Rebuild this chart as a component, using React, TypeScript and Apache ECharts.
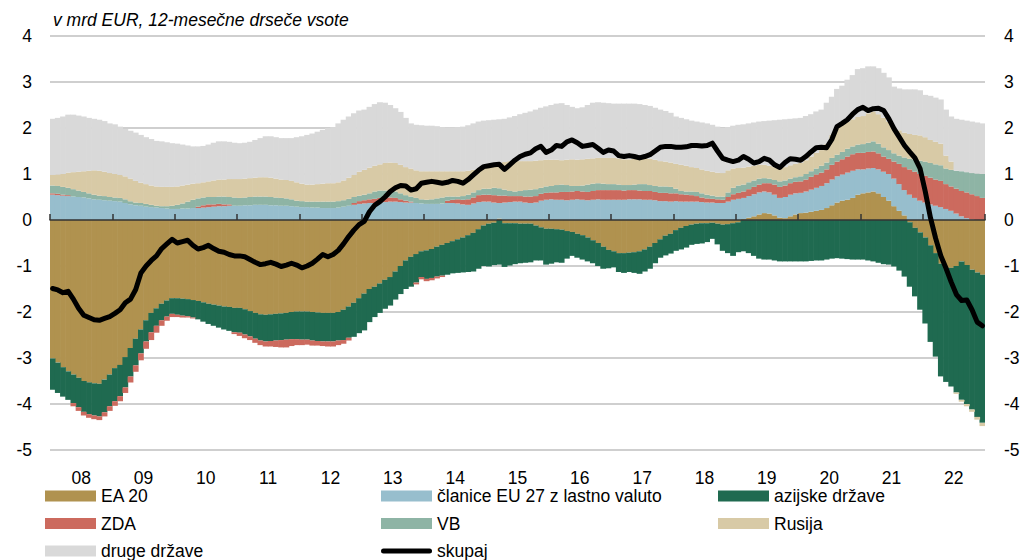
import React, { useEffect, useRef } from "react";
import * as echarts from "echarts";

const years = ["08", "09", "10", "11", "12", "13", "14", "15", "16", "17", "18", "19", "20", "21", "22"];

// monthly values 2008-01 .. 2022-12, mrd EUR
const ea20 = [
  -3.01, -3.10, -3.20, -3.29, -3.36, -3.43, -3.50, -3.53, -3.55, -3.56, -3.47, -3.36,
  -3.22, -3.15, -2.98, -2.78, -2.58, -2.38, -2.18, -2.02, -1.92, -1.82, -1.75, -1.70,
  -1.70, -1.71, -1.72, -1.74, -1.76, -1.79, -1.82, -1.84, -1.86, -1.88, -1.89, -1.91,
  -1.91, -1.94, -1.98, -2.02, -2.05, -2.06, -2.05, -2.04, -2.03, -2.02, -2.00, -1.99,
  -1.99, -1.99, -2.00, -2.01, -2.02, -2.02, -2.02, -2.00, -1.95, -1.88, -1.80, -1.70,
  -1.60, -1.50, -1.45, -1.38, -1.30, -1.24, -1.12, -1.00, -0.88, -0.80, -0.74, -0.68,
  -0.66, -0.63, -0.58, -0.54, -0.50, -0.46, -0.42, -0.38, -0.33, -0.28, -0.20, -0.12,
  -0.08, -0.06, 0.03, -0.07, -0.07, -0.07, -0.08, -0.08, -0.08, -0.12, -0.16, -0.19,
  -0.19, -0.20, -0.21, -0.24, -0.26, -0.30, -0.33, -0.38, -0.44, -0.50, -0.58, -0.65,
  -0.68, -0.72, -0.72, -0.71, -0.70, -0.68, -0.64, -0.58, -0.50, -0.42, -0.34, -0.30,
  -0.22, -0.17, -0.13, -0.10, -0.08, -0.07, -0.07, -0.06, -0.08, -0.10, -0.09, -0.07,
  -0.05, 0.02, 0.05, 0.08, 0.12, 0.15, 0.14, 0.10, 0.05, 0.04, 0.08, 0.12,
  0.15, 0.16, 0.18, 0.20, 0.22, 0.26, 0.32, 0.38, 0.42, 0.44, 0.48, 0.55,
  0.58, 0.60, 0.62, 0.58, 0.50, 0.42, 0.30, 0.20, 0.10, -0.05, -0.17, -0.27,
  -0.38, -0.55, -0.72, -0.95, -1.04, -1.04, -1.00, -0.90, -0.98, -1.08, -1.14, -1.19,
];

const euNonEuro = [
  0.55, 0.54, 0.53, 0.52, 0.51, 0.50, 0.49, 0.47, 0.45, 0.44, 0.43, 0.42,
  0.41, 0.40, 0.37, 0.34, 0.32, 0.31, 0.29, 0.28, 0.27, 0.26, 0.25, 0.24,
  0.24, 0.25, 0.25, 0.26, 0.26, 0.27, 0.28, 0.29, 0.30, 0.30, 0.31, 0.31,
  0.31, 0.32, 0.32, 0.33, 0.33, 0.33, 0.32, 0.32, 0.31, 0.31, 0.30, 0.29,
  0.28, 0.28, 0.27, 0.27, 0.26, 0.26, 0.26, 0.27, 0.29, 0.31, 0.33, 0.35,
  0.36, 0.37, 0.37, 0.38, 0.39, 0.40, 0.40, 0.39, 0.38, 0.38, 0.37, 0.36,
  0.35, 0.35, 0.35, 0.36, 0.37, 0.37, 0.36, 0.34, 0.33, 0.36, 0.39, 0.40,
  0.40, 0.38, 0.34, 0.38, 0.39, 0.40, 0.40, 0.38, 0.37, 0.38, 0.42, 0.44,
  0.45, 0.44, 0.44, 0.43, 0.44, 0.45, 0.44, 0.43, 0.44, 0.45, 0.44, 0.44,
  0.44, 0.44, 0.44, 0.45, 0.45, 0.45, 0.44, 0.44, 0.43, 0.41, 0.41, 0.40,
  0.41, 0.40, 0.40, 0.40, 0.40, 0.39, 0.38, 0.38, 0.37, 0.37, 0.40, 0.44,
  0.46, 0.46, 0.47, 0.48, 0.48, 0.47, 0.46, 0.45, 0.43, 0.46, 0.47, 0.46,
  0.44, 0.46, 0.48, 0.50, 0.52, 0.54, 0.56, 0.57, 0.57, 0.59, 0.59, 0.55,
  0.52, 0.52, 0.51, 0.52, 0.55, 0.58, 0.60, 0.58, 0.55, 0.55, 0.48, 0.42,
  0.38, 0.34, 0.31, 0.28, 0.24, 0.20, 0.14, 0.08, 0.04, 0.01, 0.00, 0.00,
];

const asia = [
  -0.68, -0.66, -0.64, -0.62, -0.62, -0.64, -0.67, -0.69, -0.70, -0.71, -0.71, -0.69,
  -0.72, -0.68, -0.66, -0.62, -0.58, -0.52, -0.46, -0.42, -0.38, -0.36, -0.35, -0.34,
  -0.36, -0.37, -0.37, -0.38, -0.40, -0.42, -0.44, -0.46, -0.48, -0.50, -0.52, -0.53,
  -0.54, -0.55, -0.55, -0.56, -0.57, -0.58, -0.58, -0.58, -0.58, -0.58, -0.59, -0.60,
  -0.61, -0.61, -0.62, -0.62, -0.62, -0.62, -0.62, -0.62, -0.66, -0.68, -0.74, -0.76,
  -0.80, -0.72, -0.66, -0.64, -0.63, -0.62, -0.61, -0.61, -0.62, -0.65, -0.62, -0.56,
  -0.62, -0.63, -0.65, -0.67, -0.69, -0.70, -0.73, -0.76, -0.80, -0.84, -0.86, -0.88,
  -0.93, -0.92, -0.97, -0.95, -0.92, -0.89, -0.86, -0.85, -0.84, -0.76, -0.72, -0.78,
  -0.76, -0.72, -0.72, -0.60, -0.52, -0.52, -0.53, -0.52, -0.50, -0.50, -0.48, -0.40,
  -0.35, -0.41, -0.43, -0.42, -0.45, -0.49, -0.48, -0.48, -0.44, -0.40, -0.43, -0.43,
  -0.45, -0.47, -0.47, -0.44, -0.44, -0.44, -0.41, -0.35, -0.45, -0.57, -0.63, -0.71,
  -0.65, -0.68, -0.72, -0.78, -0.84, -0.86, -0.86, -0.88, -0.90, -0.90, -0.90, -0.90,
  -0.90, -0.90, -0.89, -0.88, -0.88, -0.86, -0.84, -0.83, -0.84, -0.85, -0.86, -0.86,
  -0.86, -0.88, -0.90, -0.93, -0.96, -0.97, -1.01, -1.10, -1.23, -1.40, -1.49, -1.68,
  -1.87, -2.10, -2.25, -2.45, -2.48, -2.58, -2.75, -3.01, -3.02, -3.04, -3.14, -3.22,
];

const usa = [
  0.03, 0.03, 0.02, 0.02, -0.07, -0.08, -0.08, -0.08, -0.08, -0.08, -0.09, -0.10,
  -0.10, -0.11, -0.12, -0.13, -0.14, -0.15, -0.16, -0.17, -0.15, -0.12, -0.09, -0.07,
  -0.05, -0.04, -0.03, -0.02, 0.03, 0.05, 0.06, 0.05, 0.05, 0.04, 0.03, -0.04,
  -0.07, -0.08, -0.08, -0.09, -0.10, -0.11, -0.12, -0.14, -0.16, -0.17, -0.15, -0.13,
  -0.12, -0.11, -0.11, -0.10, -0.10, -0.11, -0.11, -0.10, -0.08, -0.06, 0.04, 0.06,
  0.07, 0.08, 0.09, 0.10, 0.10, 0.09, 0.08, 0.06, 0.04, 0.02, -0.04, -0.05,
  -0.05, -0.05, -0.04, -0.03, 0.05, 0.07, 0.09, 0.10, 0.12, 0.13, 0.15, 0.15,
  0.15, 0.16, 0.16, 0.15, 0.13, 0.12, 0.12, 0.13, 0.14, 0.14, 0.15, 0.15,
  0.15, 0.16, 0.17, 0.18, 0.18, 0.18, 0.18, 0.18, 0.19, 0.20, 0.21, 0.21,
  0.21, 0.21, 0.20, 0.20, 0.20, 0.19, 0.19, 0.19, 0.18, 0.18, 0.18, 0.18,
  0.17, 0.16, 0.15, 0.14, 0.12, 0.10, 0.09, 0.08, 0.08, 0.07, 0.10, 0.12,
  0.13, 0.14, 0.15, 0.16, 0.17, 0.18, 0.20, 0.22, 0.24, 0.25, 0.25, 0.25,
  0.25, 0.26, 0.28, 0.29, 0.29, 0.30, 0.32, 0.32, 0.33, 0.35, 0.36, 0.36,
  0.36, 0.36, 0.36, 0.35, 0.33, 0.33, 0.37, 0.44, 0.50, 0.55, 0.57, 0.58,
  0.58, 0.58, 0.57, 0.57, 0.54, 0.53, 0.54, 0.55, 0.56, 0.55, 0.52, 0.48,
];

const uk = [
  0.17, 0.17, 0.17, 0.16, 0.16, 0.14, 0.12, 0.11, 0.10, 0.09, 0.09, 0.08,
  0.08, 0.08, 0.08, 0.07, 0.06, 0.06, 0.06, 0.05, 0.04, 0.04, 0.05, 0.07,
  0.09, 0.11, 0.15, 0.18, 0.18, 0.17, 0.16, 0.16, 0.16, 0.17, 0.16, 0.18,
  0.17, 0.17, 0.18, 0.18, 0.18, 0.18, 0.18, 0.17, 0.17, 0.16, 0.15, 0.13,
  0.13, 0.12, 0.13, 0.13, 0.14, 0.14, 0.14, 0.14, 0.14, 0.15, 0.13, 0.12,
  0.12, 0.13, 0.16, 0.16, 0.15, 0.14, 0.14, 0.13, 0.12, 0.11, 0.11, 0.09,
  0.09, 0.10, 0.12, 0.13, 0.09, 0.07, 0.06, 0.08, 0.10, 0.11, 0.11, 0.13,
  0.13, 0.16, 0.16, 0.13, 0.11, 0.10, 0.11, 0.14, 0.15, 0.15, 0.13, 0.14,
  0.14, 0.16, 0.16, 0.15, 0.12, 0.11, 0.13, 0.16, 0.16, 0.15, 0.14, 0.13,
  0.13, 0.12, 0.12, 0.11, 0.12, 0.14, 0.15, 0.13, 0.13, 0.14, 0.14, 0.14,
  0.10, 0.07, 0.07, 0.08, 0.09, 0.09, 0.08, 0.07, 0.06, 0.07, 0.10, 0.14,
  0.16, 0.15, 0.15, 0.14, 0.13, 0.11, 0.10, 0.10, 0.12, 0.11, 0.10, 0.10,
  0.11, 0.12, 0.12, 0.13, 0.15, 0.15, 0.15, 0.15, 0.16, 0.17, 0.17, 0.18,
  0.19, 0.20, 0.22, 0.21, 0.20, 0.19, 0.18, 0.18, 0.21, 0.23, 0.26, 0.29,
  0.31, 0.32, 0.33, 0.34, 0.34, 0.36, 0.39, 0.43, 0.44, 0.46, 0.49, 0.52,
];

const russia = [
  0.23, 0.25, 0.28, 0.33, 0.37, 0.41, 0.45, 0.49, 0.53, 0.54, 0.53, 0.52,
  0.51, 0.50, 0.50, 0.49, 0.47, 0.44, 0.43, 0.42, 0.42, 0.42, 0.42, 0.41,
  0.40, 0.39, 0.37, 0.35, 0.33, 0.33, 0.34, 0.36, 0.37, 0.37, 0.39, 0.40,
  0.41, 0.41, 0.41, 0.41, 0.42, 0.42, 0.42, 0.41, 0.40, 0.40, 0.40, 0.40,
  0.38, 0.37, 0.37, 0.38, 0.39, 0.40, 0.40, 0.41, 0.43, 0.46, 0.48, 0.52,
  0.54, 0.56, 0.56, 0.57, 0.60, 0.62, 0.62, 0.62, 0.61, 0.61, 0.60, 0.61,
  0.62, 0.61, 0.59, 0.57, 0.55, 0.55, 0.55, 0.54, 0.52, 0.49, 0.47, 0.48,
  0.50, 0.52, 0.55, 0.60, 0.65, 0.66, 0.65, 0.63, 0.62, 0.62, 0.60, 0.58,
  0.57, 0.55, 0.53, 0.55, 0.58, 0.57, 0.57, 0.56, 0.55, 0.55, 0.56, 0.57,
  0.57, 0.57, 0.56, 0.56, 0.56, 0.57, 0.57, 0.57, 0.57, 0.55, 0.54, 0.53,
  0.54, 0.57, 0.56, 0.53, 0.52, 0.52, 0.52, 0.52, 0.52, 0.51, 0.48, 0.42,
  0.38, 0.37, 0.34, 0.32, 0.30, 0.29, 0.28, 0.28, 0.29, 0.29, 0.29, 0.29,
  0.29, 0.30, 0.32, 0.34, 0.34, 0.40, 0.50, 0.61, 0.60, 0.59, 0.59, 0.60,
  0.61, 0.64, 0.65, 0.64, 0.64, 0.62, 0.55, 0.55, 0.54, 0.54, 0.54, 0.55,
  0.53, 0.50, 0.49, 0.47, 0.28, 0.18, -0.03, -0.04, -0.05, -0.05, -0.06, -0.07,
];

const other = [
  1.22, 1.23, 1.25, 1.26, 1.25, 1.22, 1.19, 1.15, 1.12, 1.11, 1.10, 1.08,
  1.08, 1.05, 1.03, 1.04, 1.05, 1.04, 1.02, 1.01, 0.99, 0.99, 0.97, 0.95,
  0.93, 0.89, 0.85, 0.81, 0.80, 0.79, 0.80, 0.82, 0.83, 0.83, 0.81, 0.79,
  0.78, 0.78, 0.79, 0.82, 0.85, 0.89, 0.90, 0.90, 0.90, 0.91, 0.93, 0.98,
  1.03, 1.08, 1.11, 1.14, 1.17, 1.20, 1.22, 1.28, 1.32, 1.33, 1.34, 1.33,
  1.31, 1.32, 1.34, 1.35, 1.31, 1.25, 1.19, 1.15, 1.07, 0.98, 0.99, 1.00,
  0.99, 0.99, 0.98, 0.96, 0.95, 0.95, 0.96, 0.97, 0.99, 1.01, 1.02, 1.00,
  0.99, 0.96, 0.95, 0.94, 0.95, 0.98, 1.02, 1.05, 1.08, 1.11, 1.14, 1.16,
  1.19, 1.22, 1.24, 1.19, 1.14, 1.12, 1.13, 1.17, 1.21, 1.21, 1.20, 1.19,
  1.18, 1.19, 1.21, 1.21, 1.20, 1.17, 1.15, 1.15, 1.13, 1.12, 1.10, 1.08,
  1.03, 1.02, 1.01, 1.01, 1.01, 1.02, 1.03, 1.02, 1.00, 0.98, 0.94, 0.93,
  0.94, 0.94, 0.94, 0.94, 0.94, 0.95, 0.98, 1.02, 1.05, 1.04, 1.01, 0.99,
  0.98, 0.96, 0.92, 0.90, 0.88, 0.90, 0.83, 0.82, 0.84, 0.91, 0.96, 1.04,
  1.04, 1.02, 0.98, 1.00, 0.98, 0.96, 0.90, 0.91, 0.94, 0.97, 0.99, 0.98,
  0.92, 0.96, 0.96, 0.96, 1.00, 0.98, 1.13, 1.12, 1.12, 1.12, 1.11, 1.10,
];

const total = [
  -1.49, -1.52, -1.58, -1.55, -1.72, -1.92, -2.07, -2.12, -2.17, -2.18, -2.14, -2.10,
  -2.03, -1.95, -1.80, -1.72, -1.51, -1.15, -1.00, -0.88, -0.78, -0.62, -0.52, -0.42,
  -0.50, -0.47, -0.44, -0.55, -0.63, -0.60, -0.55, -0.62, -0.68, -0.70, -0.75, -0.78,
  -0.78, -0.80, -0.86, -0.92, -0.97, -0.95, -0.92, -0.96, -1.01, -0.98, -0.94, -0.98,
  -1.04, -1.00, -0.94, -0.85, -0.75, -0.80, -0.75, -0.66, -0.52, -0.36, -0.22, -0.10,
  -0.03, 0.18, 0.32, 0.40, 0.50, 0.62, 0.70, 0.75, 0.74, 0.65, 0.68, 0.80,
  0.82, 0.84, 0.82, 0.80, 0.82, 0.86, 0.84, 0.80, 0.88, 0.98, 1.08, 1.16,
  1.18, 1.20, 1.21, 1.10, 1.20, 1.30, 1.38, 1.43, 1.46, 1.55, 1.60, 1.47,
  1.52, 1.62, 1.60, 1.70, 1.74, 1.68, 1.60, 1.62, 1.64, 1.56, 1.47, 1.52,
  1.50, 1.40, 1.38, 1.40, 1.38, 1.35, 1.38, 1.42, 1.50, 1.58, 1.60, 1.60,
  1.58, 1.58, 1.59, 1.62, 1.62, 1.61, 1.62, 1.67, 1.50, 1.34, 1.30, 1.27,
  1.30, 1.38, 1.32, 1.24, 1.27, 1.34, 1.30, 1.20, 1.14, 1.25, 1.33, 1.32,
  1.30, 1.38, 1.48, 1.57, 1.58, 1.57, 1.75, 2.03, 2.10, 2.18, 2.30, 2.40,
  2.45, 2.38, 2.42, 2.43, 2.38, 2.20, 1.98, 1.80, 1.62, 1.48, 1.35, 1.12,
  0.62, 0.05, -0.40, -0.78, -1.05, -1.35, -1.62, -1.75, -1.74, -1.95, -2.22, -2.30,
];

const yTicks = { min: -5, max: 4, step: 1 };

const FONT = "'Liberation Sans', Arial, sans-serif";
const FS = 17.5;
const LINE_ICON =
  "path://M2.5,0 H48.5 A2.5,2.5 0 0 1 48.5,5 H2.5 A2.5,2.5 0 0 1 2.5,0 Z";

export default function App() {
  const ref = useRef<HTMLDivElement>(null);

  useEffect(() => {
    if (!ref.current) return;
    document.body.style.margin = "0";
    document.body.style.overflow = "hidden";
    const chart = echarts.init(ref.current, undefined, { renderer: "svg" });

    const months: string[] = [];
    years.forEach((y) => {
      for (let m = 1; m <= 12; m++) months.push(y + "-" + (m < 10 ? "0" + m : m));
    });

    const barSeries = [
      { name: "EA 20", data: ea20, color: "#B0924F" },
      { name: "članice EU 27 z lastno valuto", data: euNonEuro, color: "#97BECD" },
      { name: "azijske države", data: asia, color: "#1F6A50" },
      { name: "ZDA", data: usa, color: "#CC6A5E" },
      { name: "VB", data: uk, color: "#8EB4A5" },
      { name: "Rusija", data: russia, color: "#D8CAA6" },
      { name: "druge države", data: other, color: "#D9D9D9" },
    ].map((s) => ({
      name: s.name,
      type: "bar",
      stack: "all",
      xAxisIndex: 0,
      yAxisIndex: 0,
      barWidth: 5.8,
      itemStyle: { color: s.color },
      emphasis: { disabled: true },
      silent: true,
      data: s.data,
    }));

    const legendBase = {
      orient: "vertical",
      itemWidth: 51,
      itemHeight: 11,
      itemGap: 9.5,
      padding: 0,
      icon: "rect",
      selectedMode: false,
      textStyle: { fontSize: FS, color: "#000", fontFamily: FONT },
    };

    chart.setOption({
      animation: false,
      textStyle: { fontFamily: FONT },
      title: {
        text: "v mrd EUR, 12-mesečne drseče vsote",
        left: 53,
        top: 11,
        padding: 0,
        textStyle: {
          fontSize: FS,
          fontStyle: "italic",
          fontWeight: "normal",
          color: "#000",
          fontFamily: FONT,
        },
      },
      legend: [
        { ...legendBase, left: 45, top: 487, data: ["EA 20", "ZDA", "druge države"] },
        {
          ...legendBase,
          left: 381,
          top: 487,
          data: [
            "članice EU 27 z lastno valuto",
            "VB",
            { name: "skupaj", icon: LINE_ICON, itemStyle: { color: "#000" } },
          ],
        },
        { ...legendBase, left: 718, top: 487, data: ["azijske države", "Rusija"] },
      ],
      grid: { left: 50, right: 38, top: 36, height: 414 },
      xAxis: [
        {
          type: "category",
          data: months,
          show: false,
          axisLine: { onZero: false },
        },
        {
          type: "value",
          min: 0,
          max: 180,
          interval: 12,
          z: 5,
          axisLine: {
            onZero: true,
            onZeroAxisIndex: 0,
            lineStyle: { color: "#333", width: 1.5 },
          },
          axisTick: { show: true, length: 6, lineStyle: { color: "#333", width: 1.5 } },
          axisLabel: { show: false },
          splitLine: { show: false },
        },
        {
          type: "value",
          min: 0,
          max: 180,
          interval: 6,
          position: "bottom",
          axisLine: { show: false, onZero: false },
          axisTick: { show: false },
          splitLine: { show: false },
          axisLabel: {
            margin: 19,
            fontSize: FS,
            color: "#000",
            fontFamily: FONT,
            formatter: (v: number) => (v % 12 === 6 ? years[(v - 6) / 12] : ""),
          },
        },
      ],
      yAxis: [
        {
          type: "value",
          min: yTicks.min,
          max: yTicks.max,
          interval: yTicks.step,
          position: "left",
          axisLine: { show: false },
          axisTick: { show: false },
          axisLabel: { margin: 18, fontSize: FS, color: "#000", fontFamily: FONT },
          splitLine: { lineStyle: { color: "#BFBFBF", width: 1.5 } },
        },
        {
          type: "value",
          min: yTicks.min,
          max: yTicks.max,
          interval: yTicks.step,
          position: "right",
          axisLine: { show: false },
          axisTick: { show: false },
          axisLabel: { margin: 19, fontSize: FS, color: "#000", fontFamily: FONT },
          splitLine: { show: false },
        },
      ],
      series: [
        ...barSeries,
        {
          name: "skupaj",
          type: "line",
          xAxisIndex: 0,
          yAxisIndex: 0,
          data: total,
          symbol: "none",
          z: 6,
          silent: true,
          color: "#000",
          lineStyle: { color: "#000", width: 5, join: "round", cap: "round" },
          emphasis: { disabled: true },
        },
      ],
    });

    return () => chart.dispose();
  }, []);

  return (
    <div
      ref={ref}
      style={{ position: "absolute", left: 0, top: 0, width: 1023, height: 560 }}
    />
  );
}
